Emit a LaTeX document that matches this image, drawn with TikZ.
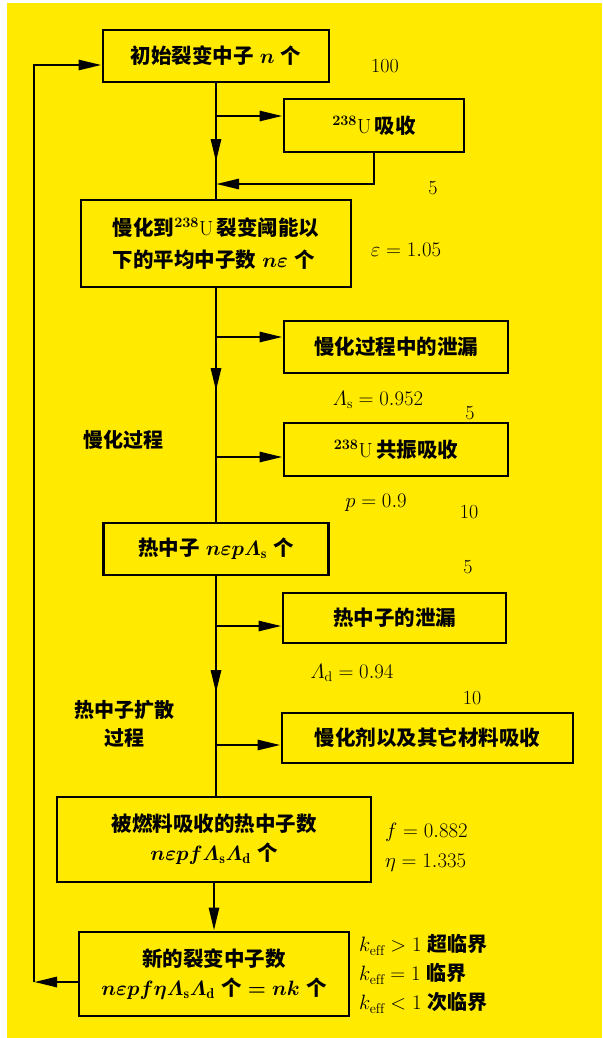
\documentclass[tikz,border=0pt]{standalone}
\usepackage{amsmath}
\usepackage{fontspec}
\newfontfamily\cjk{Noto Sans CJK SC}
\usetikzlibrary{arrows.meta}
\newcommand\zhb[1]{{\cjk\bfseries #1}}
\definecolor{bgyellow}{RGB}{255,234,0}
\begin{document}
\begin{tikzpicture}[x=1pt,y=-1pt,
  box/.style={draw, line width=2.9pt, inner sep=0pt, align=center,
    font=\fontsize{20.5}{32}\selectfont\boldmath},
  lbl/.style={inner sep=0pt, font=\fontsize{20}{29}\selectfont},
  conn/.style={line width=2.8pt},
  tip/.style={conn, -{Triangle[length=23pt,width=10pt]}},
]
\useasboundingbox (0,0) rectangle (602,1038);
\fill[white] (0,0) rectangle (602,1038);
\fill[bgyellow] (7,3) rectangle (602,1038);

% boxes
\node[box, minimum width=226pt, minimum height=52pt] (b1) at (216,56)
  {\zhb{初始裂变中子}~$n$~\zhb{个}};
\node[box, minimum width=180pt, minimum height=53pt] (b2) at (374,125.5)
  {$^{238}$U\,\zhb{吸收}};
\node[box, minimum width=270pt, minimum height=87pt, align=left] (b3) at (216,243.5)
  {\zhb{慢化到}$^{238}$U\,\zhb{裂变阈能以}\\\zhb{下的平均中子数}~$n\varepsilon$~\zhb{个}};
\node[box, minimum width=224pt, minimum height=52pt] (b4) at (396,347)
  {\zhb{慢化过程中的泄漏}};
\node[box, minimum width=224pt, minimum height=53pt] (b5) at (396,449.5)
  {$^{238}$U\,\zhb{共振吸收}};
\node[box, minimum width=225pt, minimum height=52pt] (b6) at (216,549)
  {\zhb{热中子}~$n\varepsilon p\varLambda_{\mathrm{s}}$~\zhb{个}};
\node[box, minimum width=223pt, minimum height=50pt] (b7) at (394.5,618)
  {\zhb{热中子的泄漏}};
\node[box, minimum width=291pt, minimum height=50pt] (b8) at (427.5,738)
  {\zhb{慢化剂以及其它材料吸收}};
\node[box, minimum width=314pt, minimum height=85pt,
  font=\fontsize{20.5}{29}\selectfont\boldmath] (b9) at (214,839.5)
  {\zhb{被燃料吸收的热中子数}\\$n\varepsilon p f\varLambda_{\mathrm{s}}\varLambda_{\mathrm{d}}$~\zhb{个}};
\node[box, minimum width=270pt, minimum height=84pt,
  font=\fontsize{20.5}{29}\selectfont\boldmath] (b10) at (214,974)
  {\zhb{新的裂变中子数}\\$n\varepsilon p f\eta\varLambda_{\mathrm{s}}\varLambda_{\mathrm{d}}$~\zhb{个}~$=$~$nk$~\zhb{个}};

% labels
\node[lbl] (l100) at (385,66) {100};
\node[lbl] (l5a) at (433,188) {5};
\node[lbl] (eps) at (406,250) {$\varepsilon = 1.05$};
\node[lbl] (las) at (378,400) {$\varLambda_{\mathrm{s}} = 0.952$};
\node[lbl] (l5b) at (470,413) {5};
\node[lbl] (slow) at (123,440) {\zhb{慢化过程}};
\node[lbl] (pval) at (376,503) {$p = 0.9$};
\node[lbl] (l10a) at (469,512) {10};
\node[lbl] (l5c) at (468,567) {5};
\node[lbl] (lad) at (352,673) {$\varLambda_{\mathrm{d}} = 0.94$};
\node[lbl] (l10b) at (472,698) {10};
\node[lbl, align=center, font=\fontsize{20}{28}\selectfont] (diff) at (124,724)
  {\zhb{热中子扩散}\\\zhb{过程}};
\node[lbl, anchor=west, align=left, font=\fontsize{20}{30}\selectfont] (feta) at (385,847)
  {$f = 0.882$\\$\eta = 1.335$};
\node[lbl, anchor=west, align=left, font=\fontsize{20}{29}\selectfont] (keff) at (359,974)
  {$k_{\mathrm{eff}} > 1$ \zhb{超临界}\\$k_{\mathrm{eff}} = 1$ \zhb{临界}\\$k_{\mathrm{eff}} < 1$ \zhb{次临界}};

% connectors: first stage
\coordinate (m1) at (216,162);
\draw[conn] (b1.south) -- (b3.north);
\draw[tip] (b1.south) -- (m1);
\coordinate (b2in) at ([yshift=9.5pt]b2.west);
\draw[tip] (b1.south |- b2in) -- (b2in);
\coordinate (ret) at (216,184);
\draw[tip] (b2.south) |- (ret);

% second stage
\draw[conn] (b3.south) -- (b6.north);
\coordinate (m2) at (216,391);
\draw[tip] (b3.south) -- (m2);
\coordinate (b4in) at ([yshift=10pt]b4.west);
\draw[tip] (b3.south |- b4in) -- (b4in);
\coordinate (b5in) at ([yshift=-7.5pt]b5.west);
\draw[tip] (b3.south |- b5in) -- (b5in);

% third stage
\draw[conn] (b6.south) -- (b6.south |- b9.north);
\coordinate (m3) at (216,693);
\draw[tip] (b6.south) -- (m3);
\coordinate (b7in) at ([yshift=-8pt]b7.west);
\draw[tip] (b6.south |- b7in) -- (b7in);
\coordinate (b8in) at ([yshift=-7pt]b8.west);
\draw[tip] (b6.south |- b8in) -- (b8in);

% fourth stage
\draw[tip] (b9.south) -- (b10.north);

% feedback
\coordinate (fb1) at (34,982);
\coordinate (fb2) at (34,65);
\draw[tip] ([yshift=-8pt]b10.west) -- (fb1);
\draw[tip] (fb1) -- (fb2) -- ([yshift=-9pt]b1.west);
\end{tikzpicture}
\end{document}
